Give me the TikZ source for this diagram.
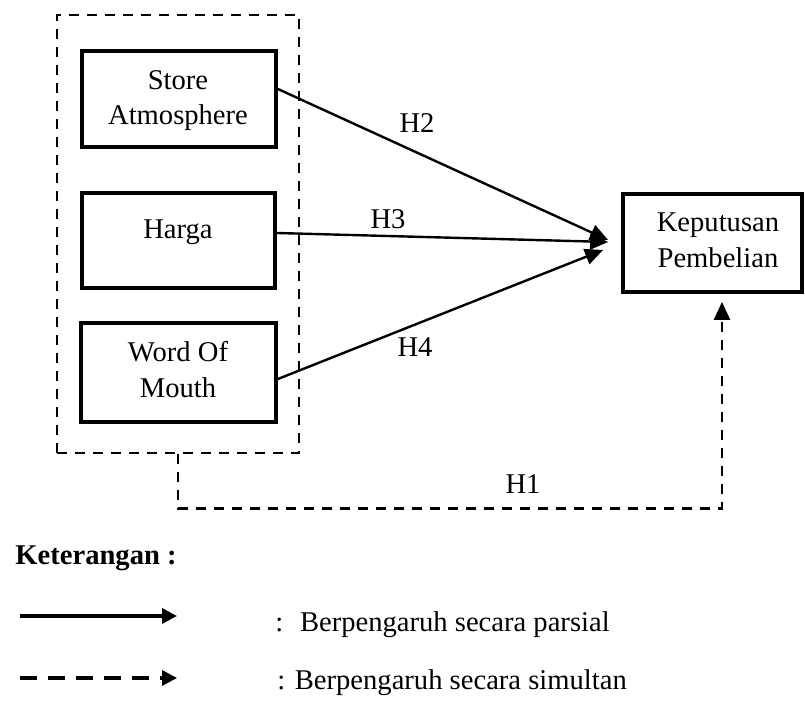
\documentclass[tikz,border=0pt]{standalone}
\usepackage{fontspec}
\setmainfont{Liberation Serif}
\usetikzlibrary{arrows.meta,calc}
\begin{document}
\begin{tikzpicture}[x=0.5pt,y=-0.5pt,
  box/.style={draw,line width=1.9pt,rectangle,inner sep=0pt},
  lbl/.style={inner sep=0pt,anchor=base,font=\fontsize{14.3}{17.5}\selectfont},
  lgd/.style={inner sep=0pt,anchor=base west,font=\fontsize{14.3}{17.5}\selectfont},
  tip/.style={-{Triangle[length=9pt,width=8pt]}},
  arr/.style={line width=1.2pt,tip},
  dsh/.style={line width=1.3pt,dash pattern=on 5pt off 4pt}]
\useasboundingbox (0,0) rectangle (805,705);
% outer dashed group
\node[draw,dsh,inner sep=0pt,minimum width=121pt,minimum height=219pt] (outer) at (178,234) {};
% boxes
\node[box,minimum width=97pt,minimum height=48pt] (store) at (179,99) {};
\node[box,minimum width=96.5pt,minimum height=47.5pt] (harga) at (178.5,240.5) {};
\node[box,minimum width=97.5pt,minimum height=49.5pt] (wom) at (178.5,372.5) {};
\node[box,minimum width=89.5pt,minimum height=49pt] (kep) at (712.5,243) {};
% box texts
\node[lbl] (t1) at (178,90) {Store};
\node[lbl] (t2) at (178,125) {Atmosphere};
\node[lbl] (t3) at (178,239) {Harga};
\node[lbl] (t4) at (178,362) {Word Of};
\node[lbl] (t5) at (178,398) {Mouth};
\node[lbl] (t6) at (718,232) {Keputusan};
\node[lbl] (t7) at (718,268) {Pembelian};
% arrows
\draw[arr] ($(store.east)+(0,-10)$) -- ($(kep.west)+(-13,-3)$);
\draw[arr] ($(harga.east)+(0,-7.5)$) -- ($(kep.west)+(-13,-1)$);
\draw[arr] ($(wom.east)+(0,6.5)$) -- ($(kep.west)+(-18,7)$);
\draw[dsh,tip] (outer.south) -- ++(0,54) -| ($(kep.south)+(9.5,8)$);
% hypothesis labels
\node[lbl] (h2) at (417,133) {H2};
\node[lbl] (h3) at (388,229) {H3};
\node[lbl] (h4) at (415,357) {H4};
\node[lbl] (h1) at (523,494) {H1};
% legend
\node[lgd,font=\fontsize{14.3}{17.5}\selectfont\bfseries] (ket) at (15,565) {Keterangan :};
\coordinate (l1a) at (20,616);
\coordinate (l1b) at (177,616);
\coordinate (l2a) at (20,678);
\coordinate (l2b) at (177,678);
\draw[line width=1.7pt,-{Triangle[length=7.5pt,width=7.5pt]}] (l1a) -- (l1b);
\draw[line width=1.7pt,dash pattern=on 8.5pt off 5.5pt,-{Triangle[length=7.5pt,width=7.5pt]}] (l2a) -- (l2b);
\node[lgd] (g1) at (275,632) {:~ Berpengaruh secara parsial};
\node[lgd] (g2) at (277,690) {: Berpengaruh secara simultan};
\end{tikzpicture}
\end{document}
